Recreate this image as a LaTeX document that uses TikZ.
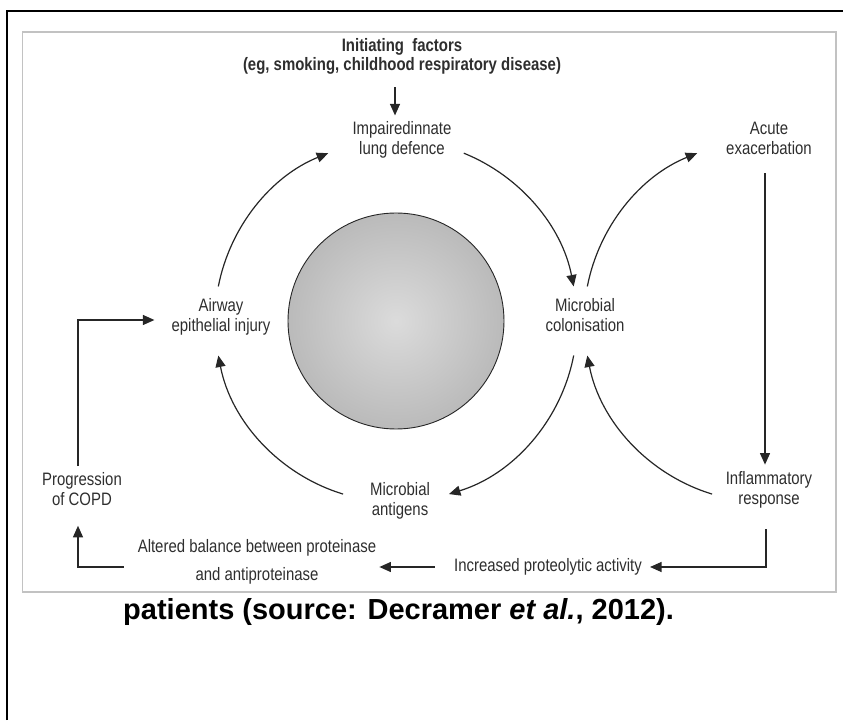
\documentclass[tikz,border=0pt]{standalone}
\usepackage{fontspec}
\setmainfont{Liberation Sans}
\newfontfamily\narrowfont{Liberation Sans}[FakeStretch=0.83]
\usetikzlibrary{arrows.meta,calc,positioning}
\definecolor{ink}{gray}{0.15}
\definecolor{labelgray}{gray}{0.18}
\definecolor{framegray}{gray}{0.76}
\definecolor{ballin}{gray}{0.86}
\definecolor{ballout}{gray}{0.6}
\pgfdeclareradialshading{ballshade}{\pgfpoint{0bp}{0bp}}{color(0bp)=(ballin); color(50bp)=(ballout)}
\tikzstyle{every node}+=[inner sep=0pt]
\tikzstyle{lbl}=[align=center, text=labelgray, font=\narrowfont\fontsize{18}{20}\selectfont]
\tikzstyle{arr}=[draw=ink, line width=1.2pt, -{Triangle[length=11.5pt,width=10pt]}]
\begin{document}
\begin{tikzpicture}[x=1pt,y=1pt]
\useasboundingbox (0,0) rectangle (843,720);

\draw[line width=2pt] (7.3,0) -- (7.3,709) -- (843,709);
\draw[framegray, line width=1.5pt] (22.7,128) rectangle (836,688);

\node[circle, draw=ink, line width=0.9pt, minimum size=216pt, shading=ballshade] (ball) at (396,399) {};
\coordinate (hub) at (765,399);

\node[lbl, font=\narrowfont\bfseries\fontsize{18}{19}\selectfont] (init) at (402,664) {Initiating\ \ factors\\(eg, smoking, childhood respiratory disease)};
\node[lbl] (impaired) at (402,580) {Impairedinnate\\lung defence};
\node[lbl] (acute) at (769,582) {Acute\\exacerbation};
\node[lbl] (airway) at (221,403.5) {Airway\\epithelial injury};
\node[lbl] (colon) at (585,405) {Microbial\\colonisation};
\node[lbl] (progr) at (82,231) {Progression\\of COPD};
\node[lbl] (antigens) at (400,219.5) {Microbial\\antigens};
\node[lbl] (inflam) at (769,230.5) {Inflammatory\\response};
\node[lbl] (altered) at (257,158.5) {Altered balance between proteinase\\[8pt]and antiproteinase};
\node[lbl] (incr) at (548,153) {Increased proteolytic activity};

\node[anchor=base west, font=\bfseries\fontsize{29}{34}\selectfont] (caption) at (123,100) {patients (source: Decramer \textit{et al.}, 2012).};

\draw[arr] (ball.center) ++(169:181) arc[start angle=169, end angle=112, radius=181];
\draw[arr] (ball.center) ++(68:181) arc[start angle=68, end angle=11, radius=181];
\draw[arr] (ball.center) ++(-11:181) arc[start angle=-11, end angle=-73, radius=181];
\draw[arr] (ball.center) ++(-107:181) arc[start angle=-107, end angle=-169, radius=181];
\draw[arr] (hub) ++(169:181) arc[start angle=169, end angle=112, radius=181];
\draw[arr] (hub) ++(-107:181) arc[start angle=-107, end angle=-169, radius=181];

\draw[arr, shorten <=13pt, shorten >=6pt] ([xshift=-7pt]init.south) -- ([xshift=-7pt]impaired.north);
\draw[arr, shorten <=18.6pt, shorten >=6.3pt] ([xshift=-4pt]acute.south) -- ([xshift=-4pt]inflam.north);
\draw[arr, shorten <=21pt, shorten >=8pt] ([xshift=-3pt]inflam.south) |- (incr.east);
\draw[arr, shorten <=19pt, shorten >=3pt] (incr.west) -- (incr.west -| altered.east);
\draw[arr, shorten <=14pt, shorten >=20pt] (incr.west -| altered.west) -| ([xshift=-4pt]progr.south);
\draw[arr, shorten <=6pt, shorten >=17pt] ([xshift=-4pt]progr.north) |- ([yshift=-3.5pt]airway.west);
\end{tikzpicture}
\end{document}
